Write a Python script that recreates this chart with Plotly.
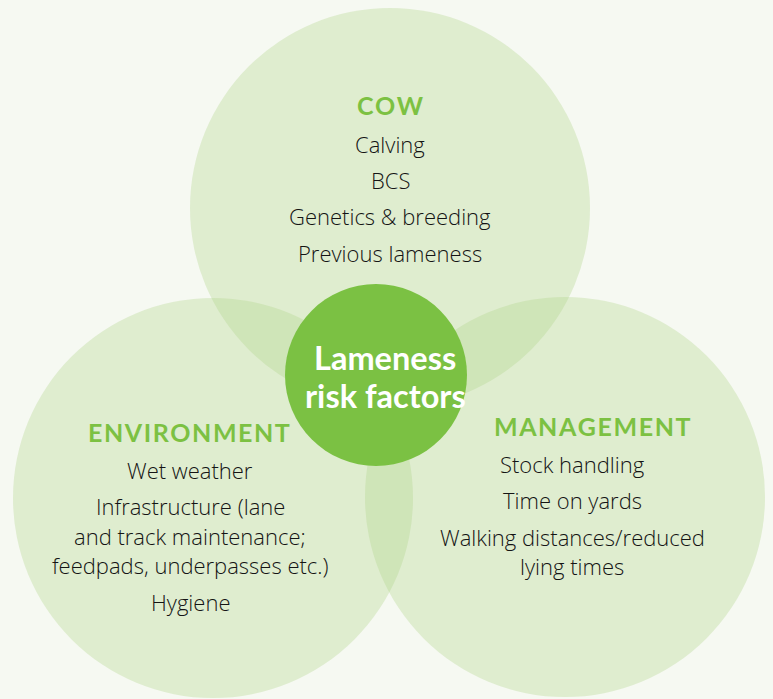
import plotly.graph_objects as go

# ---- content ----
center_title = ["Lameness", "risk factors"]
group_names = ["COW", "ENVIRONMENT", "MANAGEMENT"]
cow_items = ["Calving", "BCS", "Genetics & breeding", "Previous lameness"]
env_items = ["Wet weather", "Infrastructure (lane", "and track maintenance;",
             "feedpads, underpasses etc.)", "Hygiene"]
mgmt_items = ["Stock handling", "Time on yards", "Walking distances/reduced", "lying times"]

# ---- layout geometry (diagram space, px-like units) ----
W, H = 773, 699
circle_cx = [390, 213, 565]
circle_cy = [208, 498, 497]
circle_r = [200, 200, 200]
center_c = (376, 375, 91)

heading_xy = [(390, 105), (189, 432), (592, 426)]
item_x = [390, 190, 572]
item_y = [
    [144, 180, 216, 253],
    [470, 506, 536, 565, 602],
    [464, 500, 537, 566],
]
center_text_x = 385
center_text_y = [357, 395]

BG = "#f6f9f2"
CIRCLE = "rgb(177,213,137)"
CENTER = "#7bc143"
HEAD = "#7cc142"
TEXT = "#141414"

fig = go.Figure()
fig.add_trace(go.Scatter(x=[0, W], y=[0, H], mode="markers",
                         marker=dict(opacity=0), hoverinfo="skip", showlegend=False))

for cx, cy, r in zip(circle_cx, circle_cy, circle_r):
    fig.add_shape(type="circle", xref="x", yref="y",
                  x0=cx - r, x1=cx + r, y0=cy - r, y1=cy + r,
                  fillcolor=CIRCLE, opacity=0.333, line=dict(width=0), layer="below")

ccx, ccy, cr = center_c
fig.add_shape(type="circle", xref="x", yref="y",
              x0=ccx - cr, x1=ccx + cr, y0=ccy - cr, y1=ccy + cr,
              fillcolor=CENTER, line=dict(width=0), layer="below")

def spaced(s):
    return "\u200a".join(list(s))

for name, (hx, hy) in zip(group_names, heading_xy):
    fig.add_annotation(x=hx, y=hy, text="<b>" + spaced(name) + "</b>", showarrow=False,
                       xanchor="center", yanchor="middle",
                       font=dict(family="Lato", size=25, color=HEAD))

for items, x, ys in zip([cow_items, env_items, mgmt_items], item_x, item_y):
    for t, y in zip(items, ys):
        fig.add_annotation(x=x, y=y, text=t, showarrow=False,
                           xanchor="center", yanchor="middle",
                           font=dict(family="Open Sans", size=22, color=TEXT, weight=300))

for t, y in zip(center_title, center_text_y):
    fig.add_annotation(x=center_text_x, y=y, text="<b>" + t + "</b>", showarrow=False,
                       xanchor="center", yanchor="middle",
                       font=dict(family="Lato", size=32.5, color="white"))

fig.update_xaxes(range=[0, W], visible=False, fixedrange=True)
fig.update_yaxes(range=[H, 0], visible=False, fixedrange=True)
fig.update_layout(width=W, height=H, margin=dict(l=0, r=0, t=0, b=0),
                  paper_bgcolor=BG, plot_bgcolor=BG, showlegend=False)

fig.write_html("out.html", config={"displayModeBar": False},
               post_script="document.body.style.margin='0';document.body.style.background='" + BG + "';")
